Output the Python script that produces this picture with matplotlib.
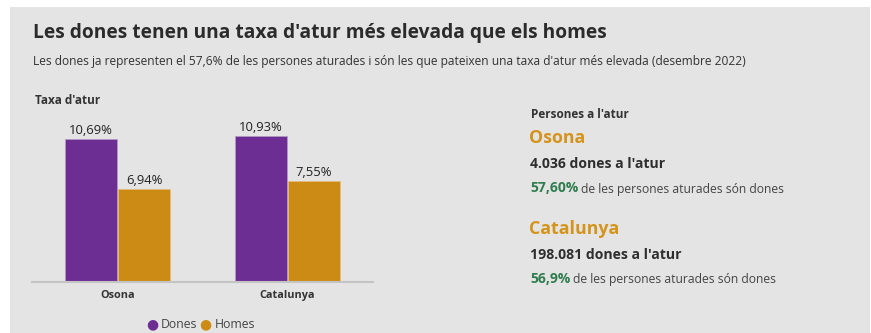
import matplotlib
matplotlib.use('Agg')
import matplotlib.pyplot as plt
from matplotlib.patches import Rectangle

plt.rcParams['font.family'] = ['Open Sans', 'DejaVu Sans']

# Dades
territoris = ['Osona', 'Catalunya']
taxa_dones = [10.69, 10.93]
taxa_homes = [6.94, 7.55]
etiquetes_dones = ['10,69%', '10,93%']
etiquetes_homes = ['6,94%', '7,55%']
dones_atur = ['4.036 dones a l\'atur', '198.081 dones a l\'atur']
pct_dones = ['57,60%', '56,9%']

COL_DONES = '#6d2e93'
COL_HOMES = '#cc8b14'
COL_TITOL = '#d4941c'
COL_VERD = '#2f7d4e'
COL_TEXT = '#333333'
FONS = '#e4e4e4'

W, H = 871, 333
fig = plt.figure(figsize=(W / 100, H / 100), dpi=100)
fig.patch.set_facecolor('white')


def px(x, y):
    return x / W, 1 - y / H


# panell gris
fig.patches.append(Rectangle((10 / W, 0), 860 / W, 1 - 7 / H,
                             transform=fig.transFigure, facecolor=FONS,
                             edgecolor='none', zorder=-10))

fig.text(*px(33, 33), "Les dones tenen una taxa d'atur més elevada que els homes",
         fontsize=13.8, fontweight='bold', color='#2b2b2b', va='center', ha='left')
fig.text(*px(33, 61), "Les dones ja representen el 57,6% de les persones aturades i són les que "
         "pateixen una taxa d'atur més elevada (desembre 2022)",
         fontsize=8.66, color=COL_TEXT, va='center', ha='left')
fig.text(*px(35, 100), "Taxa d'atur", fontsize=8.5, fontweight='bold',
         color=COL_TEXT, va='center', ha='left')

# gràfic de barres
ax = fig.add_axes([32 / W, 1 - 282 / H, 341 / W, 162 / H], zorder=5)
ax.set_facecolor('none')
x = list(range(len(territoris)))
off = 0.156
amp = 0.306
b1 = ax.bar([i - off for i in x], taxa_dones, amp, color=COL_DONES,
            edgecolor='#b69ac6', linewidth=0.5)
b2 = ax.bar([i + off for i in x], taxa_homes, amp, color=COL_HOMES,
            edgecolor='#e2bd78', linewidth=0.5)
for rects, labels in ((b1, etiquetes_dones), (b2, etiquetes_homes)):
    for r, lab in zip(rects, labels):
        ax.annotate(lab, (r.get_x() + r.get_width() / 2, r.get_height()),
                    xytext=(0, 1.5), textcoords='offset points',
                    ha='center', va='bottom', fontsize=9.4, color='#222222')
ax.set_xlim(-0.503, 1.503)
ax.set_ylim(0, 12.1)
ax.set_xticks(x)
ax.set_xticklabels(territoris, fontsize=7.8, fontweight='bold', color=COL_TEXT)
ax.tick_params(axis='x', length=0, pad=6)
ax.set_yticks([])
for s in ('top', 'right', 'left'):
    ax.spines[s].set_visible(False)
ax.spines['bottom'].set_color('#c4c4c4')
ax.spines['bottom'].set_linewidth(1.5)

# llegenda
fig.text(*px(152, 324), '●', color=COL_DONES, fontsize=10, ha='center', va='center',
         family=['DejaVu Sans'])
fig.text(*px(161, 324), 'Dones', color='#444444', fontsize=8.8, ha='left', va='center')
fig.text(*px(205, 324), '●', color=COL_HOMES, fontsize=10, ha='center', va='center',
         family=['DejaVu Sans'])
fig.text(*px(215, 324), 'Homes', color='#444444', fontsize=8.8, ha='left', va='center')

# bloc de xifres
fig.text(*px(531, 114), "Persones a l'atur", fontsize=8.5, fontweight='bold',
         color=COL_TEXT, va='center', ha='left')
ys = [138, 229]
for nom, n, pct, y0 in zip(territoris, dones_atur, pct_dones, ys):
    fig.text(*px(529, y0), nom, fontsize=12.8, fontweight='bold', color=COL_TITOL,
             va='center', ha='left')
    fig.text(*px(530, y0 + 26), n, fontsize=10.1, fontweight='bold', color='#2e2e2e',
             va='center', ha='left')
    t = fig.text(*px(530, y0 + 50), pct, fontsize=10, fontweight='bold', color=COL_VERD,
                 va='center', ha='left')
    fig.canvas.draw()
    bb = t.get_window_extent()
    fig.text(bb.x1 / W + 3 / W, 1 - (y0 + 51) / H, 'de les persones aturades són dones',
             fontsize=8.7, color='#444444', va='center', ha='left')

fig.savefig('out.png', dpi=100, facecolor=fig.get_facecolor())
